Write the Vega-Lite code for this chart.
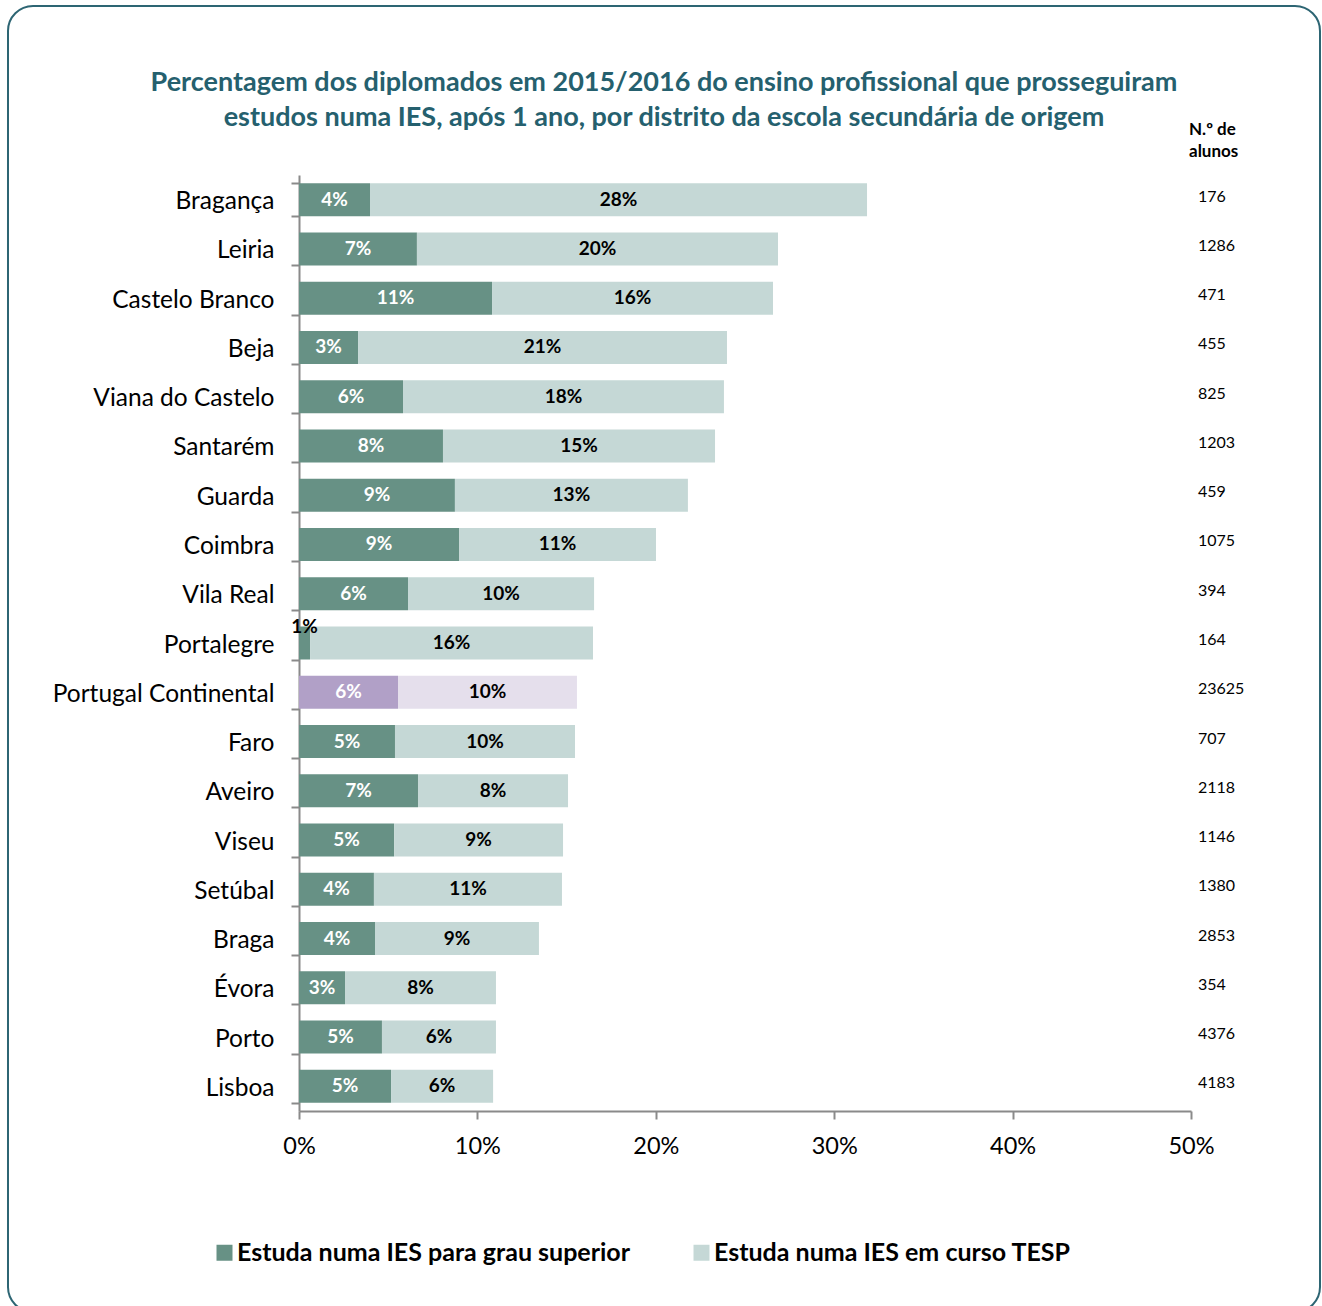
{
  "$schema": "https://vega.github.io/schema/vega-lite/v6.json",
  "autosize": {"type": "none"},
  "padding": {"left": 8, "top": 6, "right": 2, "bottom": 0},
  "width": 1312,
  "height": 1306,
  "background": "white",
  "config": {
    "font": "Lato",
    "view": {"stroke": "#2d6573", "strokeWidth": 2, "cornerRadius": 25, "fill": "white"}
  },
  "title": {
    "text": ["Percentagem dos diplomados em 2015/2016 do ensino profissional que prosseguiram", "estudos numa IES, após 1 ano, por distrito da escola secundária de origem"],
    "frame": "group",
    "anchor": "middle",
    "orient": "top",
    "offset": -139,
    "font": "Lato",
    "fontSize": 27,
    "fontWeight": "bold",
    "color": "#25606e",
    "lineHeight": 35
  },
  "datasets": {
    "barras": [
      {"distrito": "Bragança", "serie": "Estuda numa IES para grau superior", "valor": 0.0398},
      {"distrito": "Bragança", "serie": "Estuda numa IES em curso TESP", "valor": 0.2786},
      {"distrito": "Leiria", "serie": "Estuda numa IES para grau superior", "valor": 0.0661},
      {"distrito": "Leiria", "serie": "Estuda numa IES em curso TESP", "valor": 0.2024},
      {"distrito": "Castelo Branco", "serie": "Estuda numa IES para grau superior", "valor": 0.1082},
      {"distrito": "Castelo Branco", "serie": "Estuda numa IES em curso TESP", "valor": 0.1575},
      {"distrito": "Beja", "serie": "Estuda numa IES para grau superior", "valor": 0.0331},
      {"distrito": "Beja", "serie": "Estuda numa IES em curso TESP", "valor": 0.2068},
      {"distrito": "Viana do Castelo", "serie": "Estuda numa IES para grau superior", "valor": 0.0583},
      {"distrito": "Viana do Castelo", "serie": "Estuda numa IES em curso TESP", "valor": 0.1799},
      {"distrito": "Santarém", "serie": "Estuda numa IES para grau superior", "valor": 0.0807},
      {"distrito": "Santarém", "serie": "Estuda numa IES em curso TESP", "valor": 0.1525},
      {"distrito": "Guarda", "serie": "Estuda numa IES para grau superior", "valor": 0.0874},
      {"distrito": "Guarda", "serie": "Estuda numa IES em curso TESP", "valor": 0.1306},
      {"distrito": "Coimbra", "serie": "Estuda numa IES para grau superior", "valor": 0.0897},
      {"distrito": "Coimbra", "serie": "Estuda numa IES em curso TESP", "valor": 0.1104},
      {"distrito": "Vila Real", "serie": "Estuda numa IES para grau superior", "valor": 0.0611},
      {"distrito": "Vila Real", "serie": "Estuda numa IES em curso TESP", "valor": 0.1043},
      {"distrito": "Portalegre", "serie": "Estuda numa IES para grau superior", "valor": 0.0062},
      {"distrito": "Portalegre", "serie": "Estuda numa IES em curso TESP", "valor": 0.1586},
      {"distrito": "Portugal Continental", "serie": "Estuda numa IES para grau superior", "valor": 0.0555},
      {"distrito": "Portugal Continental", "serie": "Estuda numa IES em curso TESP", "valor": 0.1003},
      {"distrito": "Faro", "serie": "Estuda numa IES para grau superior", "valor": 0.0538},
      {"distrito": "Faro", "serie": "Estuda numa IES em curso TESP", "valor": 0.1009},
      {"distrito": "Aveiro", "serie": "Estuda numa IES para grau superior", "valor": 0.0667},
      {"distrito": "Aveiro", "serie": "Estuda numa IES em curso TESP", "valor": 0.0841},
      {"distrito": "Viseu", "serie": "Estuda numa IES para grau superior", "valor": 0.0533},
      {"distrito": "Viseu", "serie": "Estuda numa IES em curso TESP", "valor": 0.0947},
      {"distrito": "Setúbal", "serie": "Estuda numa IES para grau superior", "valor": 0.0420},
      {"distrito": "Setúbal", "serie": "Estuda numa IES em curso TESP", "valor": 0.1054},
      {"distrito": "Braga", "serie": "Estuda numa IES para grau superior", "valor": 0.0426},
      {"distrito": "Braga", "serie": "Estuda numa IES em curso TESP", "valor": 0.0919},
      {"distrito": "Évora", "serie": "Estuda numa IES para grau superior", "valor": 0.0258},
      {"distrito": "Évora", "serie": "Estuda numa IES em curso TESP", "valor": 0.0846},
      {"distrito": "Porto", "serie": "Estuda numa IES para grau superior", "valor": 0.0465},
      {"distrito": "Porto", "serie": "Estuda numa IES em curso TESP", "valor": 0.0639},
      {"distrito": "Lisboa", "serie": "Estuda numa IES para grau superior", "valor": 0.0516},
      {"distrito": "Lisboa", "serie": "Estuda numa IES em curso TESP", "valor": 0.0572}
    ],
    "alunos": [
      {"distrito": "Bragança", "n": 176},
      {"distrito": "Leiria", "n": 1286},
      {"distrito": "Castelo Branco", "n": 471},
      {"distrito": "Beja", "n": 455},
      {"distrito": "Viana do Castelo", "n": 825},
      {"distrito": "Santarém", "n": 1203},
      {"distrito": "Guarda", "n": 459},
      {"distrito": "Coimbra", "n": 1075},
      {"distrito": "Vila Real", "n": 394},
      {"distrito": "Portalegre", "n": 164},
      {"distrito": "Portugal Continental", "n": 23625},
      {"distrito": "Faro", "n": 707},
      {"distrito": "Aveiro", "n": 2118},
      {"distrito": "Viseu", "n": 1146},
      {"distrito": "Setúbal", "n": 1380},
      {"distrito": "Braga", "n": 2853},
      {"distrito": "Évora", "n": 354},
      {"distrito": "Porto", "n": 4376},
      {"distrito": "Lisboa", "n": 4183}
    ]
  },
  "layer": [
    {
      "data": {"name": "barras"},
      "mark": {"type": "bar"},
      "encoding": {
        "x": {
          "field": "valor", "type": "quantitative", "stack": "zero",
          "scale": {"domain": [0, 0.5], "range": [291, 1183], "nice": false},
          "axis": {
            "title": null, "orient": "bottom", "offset": -201, "format": ".0%",
            "values": [0, 0.1, 0.2, 0.3, 0.4, 0.5], "grid": false, "labelFlush": false,
            "domainColor": "#8a8a8a", "domainWidth": 2, "tickColor": "#8a8a8a", "tickWidth": 2, "tickSize": 8,
            "labelFontSize": 23.5, "labelColor": "#000000", "labelPadding": 15, "labelFont": "Lato"
          }
        },
        "y": {
          "field": "distrito", "type": "nominal",
          "scale": {
            "domain": ["Bragança", "Leiria", "Castelo Branco", "Beja", "Viana do Castelo", "Santarém", "Guarda", "Coimbra", "Vila Real", "Portalegre", "Portugal Continental", "Faro", "Aveiro", "Viseu", "Setúbal", "Braga", "Évora", "Porto", "Lisboa"],
            "range": [169, 1105], "paddingInner": 0.33, "paddingOuter": 0.165
          },
          "axis": {
            "title": null, "orient": "left", "offset": -291, "tickBand": "extent",
            "domainColor": "#8a8a8a", "domainWidth": 2, "tickColor": "#8a8a8a", "tickWidth": 2, "tickSize": 8,
            "labelFontSize": 24.5, "labelColor": "#000000", "labelPadding": 17, "labelLimit": 0, "labelFont": "Lato",
            "labelOffset": 2
          }
        },
        "color": {
          "condition": [
            {"test": "datum.distrito === 'Portugal Continental' && datum.serie === 'Estuda numa IES para grau superior'", "value": "#b1a0c7"},
            {"test": "datum.distrito === 'Portugal Continental'", "value": "#e5dfec"}
          ],
          "field": "serie", "type": "nominal",
          "scale": {"domain": ["Estuda numa IES para grau superior", "Estuda numa IES em curso TESP"], "range": ["#679185", "#c5d8d6"]},
          "legend": {
            "title": null, "orient": "none", "legendX": 204, "legendY": 1234, "direction": "horizontal",
            "symbolType": "square", "symbolSize": 256, "symbolStrokeWidth": 0,
            "labelFontSize": 25, "labelFontWeight": "bold", "labelColor": "#000000", "labelFont": "Lato",
            "labelLimit": 0, "labelOffset": 0, "columnPadding": 58
          }
        },
        "order": {"field": "serie", "sort": "descending"}
      }
    },
    {
      "data": {"name": "barras"},
      "transform": [
        {"stack": "valor", "groupby": ["distrito"], "sort": [{"field": "serie", "order": "descending"}], "as": ["x0", "x1"]},
        {"fold": ["x0", "x1"], "as": ["borda", "pos"]},
        {"filter": "datum.valor >= 0.015"}
      ],
      "mark": {"type": "text", "fontSize": 19, "fontWeight": "bold", "baseline": "middle", "align": "center", "font": "Lato"},
      "encoding": {
        "x": {"aggregate": "mean", "field": "pos", "type": "quantitative", "stack": null},
        "y": {"field": "distrito", "type": "nominal"},
        "detail": {"field": "serie", "type": "nominal"},
        "text": {"aggregate": "mean", "field": "valor", "type": "quantitative", "format": ".0%"},
        "color": {
          "condition": {"test": "datum.serie === 'Estuda numa IES para grau superior'", "value": "#ffffff"},
          "value": "#000000"
        }
      }
    },
    {
      "data": {"name": "barras"},
      "transform": [
        {"stack": "valor", "groupby": ["distrito"], "sort": [{"field": "serie", "order": "descending"}], "as": ["x0", "x1"]},
        {"fold": ["x0", "x1"], "as": ["borda", "pos"]},
        {"filter": "datum.valor < 0.015"}
      ],
      "mark": {"type": "text", "fontSize": 19, "fontWeight": "bold", "baseline": "middle", "align": "center", "dy": -16, "color": "#000000", "font": "Lato"},
      "encoding": {
        "x": {"aggregate": "mean", "field": "pos", "type": "quantitative", "stack": null},
        "y": {"field": "distrito", "type": "nominal"},
        "detail": {"field": "serie", "type": "nominal"},
        "text": {"aggregate": "mean", "field": "valor", "type": "quantitative", "format": ".0%"}
      }
    },
    {
      "data": {"name": "alunos"},
      "mark": {"type": "text", "fontSize": 16, "align": "left", "baseline": "middle", "dx": 7, "dy": -3, "color": "#000000", "font": "Lato"},
      "encoding": {
        "x": {"datum": 0.5, "type": "quantitative"},
        "y": {"field": "distrito", "type": "nominal"},
        "text": {"field": "n", "type": "nominal"}
      }
    },
    {
      "data": {"values": [{}]},
      "mark": {"type": "text", "text": ["N.º de", "alunos"], "fontSize": 17, "fontWeight": "bold", "align": "left", "baseline": "middle", "dx": -2, "dy": -70, "lineHeight": 22, "color": "#000000", "font": "Lato"},
      "encoding": {
        "x": {"datum": 0.5, "type": "quantitative"},
        "y": {"datum": "Bragança", "type": "nominal"}
      }
    }
  ]
}
